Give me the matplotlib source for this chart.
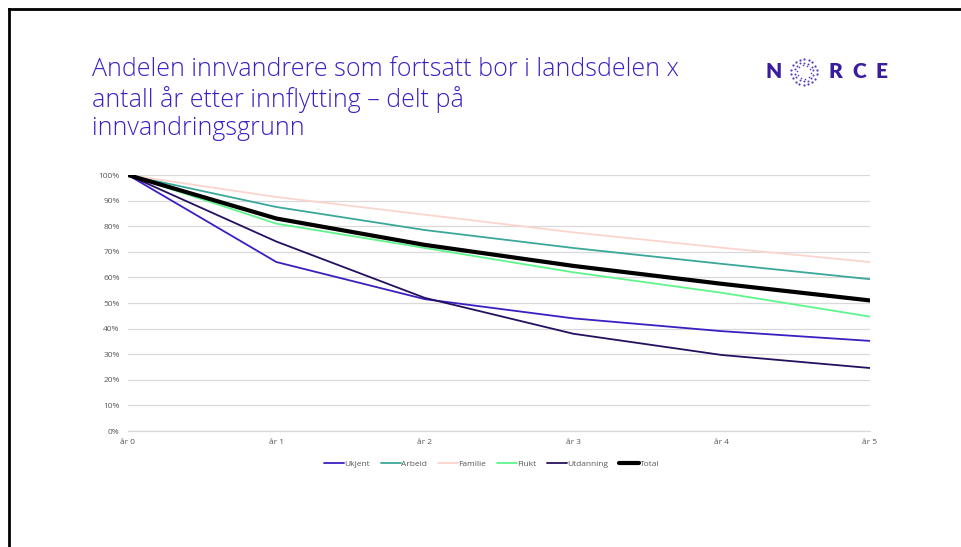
import numpy as np
import matplotlib
matplotlib.use("Agg")
import matplotlib.pyplot as plt
from matplotlib.lines import Line2D

years = ["år 0", "år 1", "år 2", "år 3", "år 4", "år 5"]

ukjent = [100, 66, 51.5, 44, 39, 35.2]
arbeid = [100, 87.5, 78.5, 71.5, 65.3, 59.3]
familie = [100, 91.4, 84.5, 77.6, 71.6, 66]
flukt = [100, 81, 71.5, 62, 54, 44.7]
utdanning = [100, 74, 52, 38, 29.7, 24.6]
total = [100, 83, 72.7, 64.5, 57.5, 51]

series = [
    ("Ukjent", ukjent, "#3b1fc2", 1.3),
    ("Arbeid", arbeid, "#3ba79b", 1.3),
    ("Familie", familie, "#fbd5cd", 1.3),
    ("Flukt", flukt, "#5ff58c", 1.3),
    ("Utdanning", utdanning, "#25105f", 1.3),
    ("Total", total, "#000000", 3.0),
]

fig = plt.figure(figsize=(9.62, 5.47), dpi=100)
fig.patch.set_facecolor("white")

# slide border (top and left)
fig.add_artist(Line2D([8.5 / 962, 1], [1 - 8.5 / 547, 1 - 8.5 / 547], color="black", lw=2.0))
fig.add_artist(Line2D([8.5 / 962, 8.5 / 962], [0, 1 - 8.5 / 547], color="black", lw=2.0))

# title
title = ("Andelen innvandrere som fortsatt bor i landsdelen x\n"
         "antall år etter innflytting \u2013 delt på\n"
         "innvandringsgrunn")
fig.text(92 / 962, 1 - 57 / 547, title, ha="left", va="top", fontsize=18,
         color="#3d1fc4", family="Open Sans", linespacing=1.17, fontweight="light")

# NORCE logo
logo_col = "#3a1d9e"
logo_y = 1 - 72 / 547
for ch, px in [("N", 774), ("R", 835), ("C", 859), ("E", 882)]:
    fig.text(px / 962, logo_y, ch, ha="center", va="center", fontsize=15,
             fontweight="heavy", color=logo_col, family="Lato")
lax = fig.add_axes([789 / 962, 1 - 87 / 547, 30 / 962, 30 / 547])
lax.set_xlim(-1, 1)
lax.set_ylim(-1, 1)
lax.axis("off")
for r, n, s in [(0.85, 18, 2.6), (0.62, 14, 2.0), (0.45, 10, 1.3)]:
    ang = np.linspace(0, 2 * np.pi, n, endpoint=False) + r
    lax.scatter(r * np.cos(ang), r * np.sin(ang), s=s, color="#5a3cc0", lw=0)

# chart
ax = fig.add_axes([128 / 962, 1 - 431 / 547, (870 - 128) / 962, (431 - 175) / 547])
x = np.arange(len(years))
for name, vals, col, lw in series:
    ax.plot(x, vals, color=col, lw=lw, label=name, solid_capstyle="round")

ax.set_xlim(0, len(years) - 1)
ax.set_ylim(0, 100)
ax.set_yticks(np.arange(0, 101, 10))
ax.set_yticklabels([f"{v}%" for v in range(0, 101, 10)])
ax.set_xticks(x)
ax.set_xticklabels(years)
ax.grid(axis="y", color="#d9d9d9", lw=0.9)
ax.axhline(0, color="#d9d9d9", lw=0.9, clip_on=False, zorder=0)
ax.set_axisbelow(True)
for sp in ax.spines.values():
    sp.set_visible(False)
ax.tick_params(length=0, labelsize=6, colors="#595959", pad=6)
ax.tick_params(axis="y", pad=6)
for lbl in ax.get_xticklabels() + ax.get_yticklabels():
    lbl.set_family("Open Sans")

leg = ax.legend(loc="upper center", bbox_to_anchor=(0.49, -0.085), ncol=6, frameon=False,
                prop={"family": "Open Sans", "size": 6}, handlelength=2.4,
                handletextpad=0.05, columnspacing=1.3)
for t in leg.get_texts():
    t.set_color("#595959")

fig.savefig("out.png", dpi=100, facecolor="white")
